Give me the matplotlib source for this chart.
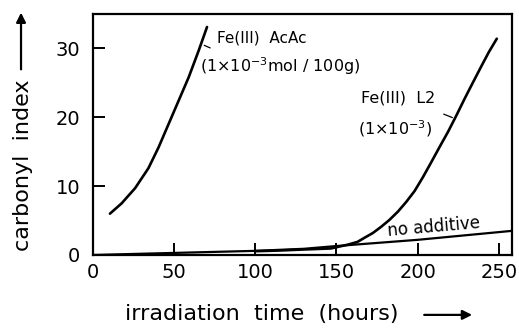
import matplotlib
matplotlib.use("Agg")
import matplotlib.pyplot as plt

### data ###
# Fe(III) AcAc
acac_t = [10.5, 17.7, 26.0, 34.2, 40.4, 46.6, 52.8, 59.0, 65.2, 70.3]
acac_ci = [6.0, 7.5, 9.7, 12.6, 15.6, 19.0, 22.4, 25.8, 29.7, 33.1]

# Fe(III) L2
l2_t = [100, 115, 130, 146.7, 157.0, 163.0, 167.3, 172.5, 177.6, 182.7, 187.9, 193.0,
        198.2, 203.3, 208.5, 213.6, 218.8, 224.0, 229.0, 234.0, 239.5, 244.0, 248.8]
l2_ci = [0.55, 0.65, 0.8, 0.95, 1.5, 1.9, 2.5, 3.2, 4.1, 5.1, 6.3, 7.7,
         9.3, 11.3, 13.5, 15.7, 17.9, 20.3, 22.7, 25.0, 27.5, 29.5, 31.4]

# no additive
blank_t = [0, 50, 100, 130, 150, 200, 258]
blank_ci = [0.0, 0.3, 0.6, 0.9, 1.3, 2.2, 3.5]

x_ticks = [50, 100, 150, 200, 250]
x_ticklabels = ["0", "50", "100", "150", "200", "250"]
y_ticks = [10, 20, 30]

plt.rcParams['font.family'] = ['DejaVu Sans']

fig = plt.figure(figsize=(5.19, 3.28), dpi=100)
ax = fig.add_axes([0.179, 0.2226, 0.807, 0.735])

ax.plot(acac_t, acac_ci, color='black', lw=1.9, solid_capstyle='round', solid_joinstyle='round')
ax.plot(l2_t, l2_ci, color='black', lw=1.9, solid_capstyle='round', solid_joinstyle='round')
ax.plot(blank_t, blank_ci, color='black', lw=1.6, solid_joinstyle='round')

ax.set_xlim(0, 258)
ax.set_ylim(0, 35)

# ticks: inward, 0 only as a label
ax.set_xticks([0] + x_ticks)
ax.set_xticklabels(x_ticklabels)
ax.set_yticks([0] + y_ticks)
ax.set_yticklabels(["0", "10", "20", "30"])
ax.tick_params(direction='in', length=8.5, width=1.4, labelsize=14, color='black')
ax.tick_params(axis='y', pad=9)
ax.tick_params(axis='x', pad=6)
ax.xaxis.get_major_ticks()[0].tick1line.set_visible(False)
ax.yaxis.get_major_ticks()[0].tick1line.set_visible(False)
for s in ax.spines.values():
    s.set_linewidth(1.6)

# curve labels
ax.text(76.7, 31.5, "Fe(III)  AcAc", fontsize=11, va='center', ha='left')
ax.text(66.2, 27.4, r"(1$\times$10$^{-3}$mol / 100g)", fontsize=11.5, va='center', ha='left')
ax.annotate("", xy=(67.0, 30.6), xytext=(73.8, 29.9),
            arrowprops=dict(arrowstyle='-', lw=0.9, color='black'))

ax.text(165.2, 22.8, "Fe(III)  L2", fontsize=11.5, va='center', ha='left')
ax.text(163.4, 18.4, r"(1$\times$10$^{-3}$)", fontsize=11.5, va='center', ha='left')
ax.annotate("", xy=(223.0, 19.8), xytext=(214.5, 20.6),
            arrowprops=dict(arrowstyle='-', lw=0.9, color='black'))

ax.text(210, 4.0, "no additive", fontsize=12, va='center', ha='center', rotation=5)

# axis titles with the arrows of the original
fig.text(0.044, 0.497, "carbonyl  index", fontsize=16, rotation=90, va='center', ha='center')
fig.text(0.505, 0.042, "irradiation  time  (hours)", fontsize=16, va='center', ha='center')
fig.patches.append(matplotlib.patches.FancyArrowPatch(
    (0.812, 0.040), (0.915, 0.040), transform=fig.transFigure,
    arrowstyle='-|>', mutation_scale=14, lw=1.6, color='black'))
fig.patches.append(matplotlib.patches.FancyArrowPatch(
    (0.0405, 0.78), (0.0405, 0.97), transform=fig.transFigure,
    arrowstyle='-|>', mutation_scale=14, lw=1.6, color='black'))

fig.savefig("out.png", dpi=100)
